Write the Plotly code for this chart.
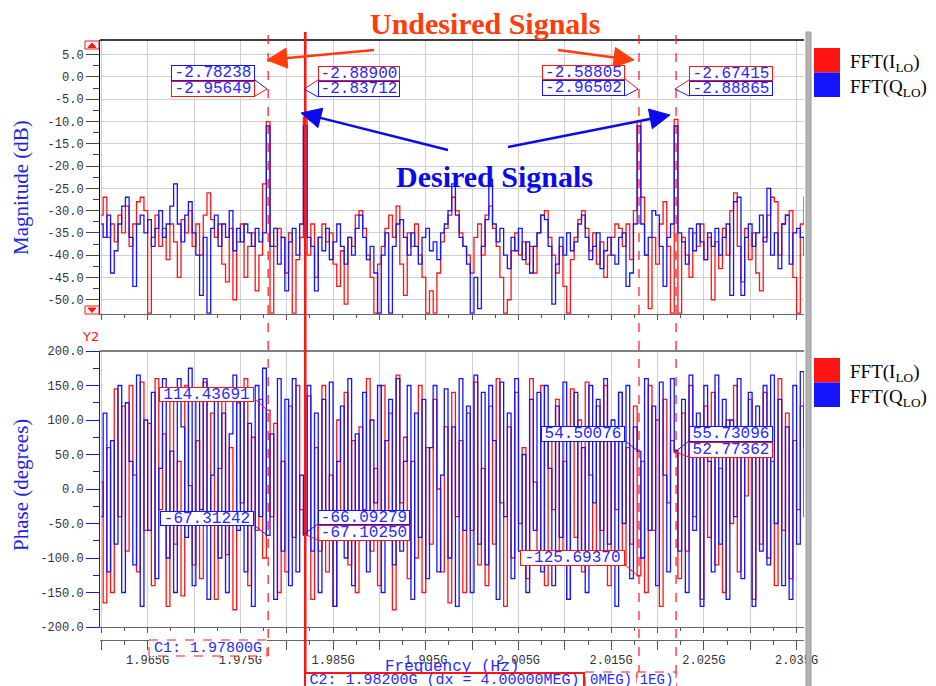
import plotly.graph_objects as go

# frequency grid in MHz (FFT bins, 0.4 MHz apart)
f_start = 1960.0
f_step = 0.4
n_bins = 191
freq = [f_start + f_step * i for i in range(n_bins)]

mag_i = [-31, -27, -36, -33, -37, -31, -35, -29, -38, -33,
         -28, -27, -30, -53, -36, -31, -38, -34, -41, -33,
         -37, -45, -32, -35, -30, -38, -33, -40, -31, -26,
         -32, -36, -33, -42, -46, -34, -50, -37, -33, -45,
         -38, -35, -48, -40, -24, -10, -53, -38, -34, -36,
         -44, -35, -53, -41, -36, -9, -40, -33, -45, -36,
         -33, -37, -35, -42, -47, -39, -51, -36, -38, -31,
         -30, -34, -40, -45, -53, -42, -38, -34, -31, -36,
         -29, -42, -49, -35, -38, -33, -40, -45, -53, -48,
         -53, -44, -37, -34, -31, -27, -30, -35, -38, -40,
         -44, -36, -33, -40, -31, -29, -34, -38, -45, -53,
         -50, -39, -35, -40, -37, -42, -38, -44, -35, -31,
         -30, -36, -40, -44, -38, -47, -53, -41, -36, -32,
         -30, -34, -39, -35, -42, -37, -45, -40, -36, -33,
         -34, -38, -33, -41, -30, -10, -27, -40, -52, -36,
         -42, -33, -28, -38, -53, -9.5, -53, -36, -40, -45,
         -35, -38, -33, -41, -36, -50, -37, -43, -34, -40,
         -30, -26, -38, -46, -34, -41, -35, -44, -48, -36,
         -31, -27, -28, -40, -33, -31, -30, -45, -53, -33,
         -27]

mag_q = [-33, -36, -31, -44, -39, -33, -29, -27, -36, -47,
         -33, -31, -35, -32, -38, -34, -30, -36, -33, -29,
         -24, -33, -37, -31, -28, -35, -40, -49, -36, -53,
         -34, -31, -38, -33, -36, -30, -39, -34, -37, -33,
         -35, -38, -34, -37, -35, -11, -38, -34, -42, -36,
         -48, -37, -34, -40, -33, -11, -36, -38, -48, -36,
         -39, -34, -41, -37, -33, -38, -42, -36, -40, -34,
         -31, -36, -41, -38, -44, -53, -40, -35, -53, -38,
         -33, -32, -36, -40, -35, -38, -42, -36, -34, -39,
         -37, -41, -35, -33, -30, -24, -31, -36, -38, -42,
         -53, -45, -52, -38, -32, -23, -33, -37, -34, -40,
         -43, -36, -39, -34, -41, -37, -44, -38, -35, -31,
         -32, -38, -51, -42, -36, -40, -35, -39, -37, -33,
         -31, -36, -41, -38, -35, -43, -39, -36, -40, -42,
         -36, -35, -47, -44, -33, -11, -33, -40, -36, -30,
         -31, -38, -47, -36, -33, -11, -35, -37, -42, -34,
         -39, -33, -37, -41, -35, -38, -34, -40, -36, -33,
         -49, -28, -27, -49, -36, -33, -38, -35, -31, -37,
         -25, -40, -35, -43, -33, -31, -42, -35, -34, -36,
         -40]

ph_i = [10, -165, 60, -150, 145, -40, 120, -90, 150, 20,
        -120, 155, -60, 95, -140, 160, -30, 80, -170, 140,
        -80, 40, -155, 150, 5, -110, 70, -130, 155, -50,
        110, -160, 30, 140, -95, 60, -175, 125, -20, 160,
        -140, 75, -60, 130, -100, 114.43691, -40, 95, -150, 40,
        -120, 120, -70, 150, -30, -67.1025, 135, -160, 60, -90,
        150, -120, 20, -170, 100, -45, 140, -110, 70, -150,
        90, -30, 160, -90, 30, -140, 150, -60, 110, -175,
        165, -20, 75, -130, 40, -100, 150, -150, 60, -80,
        130, 0, -120, 90, -165, 140, -40, 70, -150, 110,
        -60, 155, -110, 30, -140, 120, -80, 160, -20, -170,
        90, -100, 140, -50, 60, -130, 160, 10, -90, 150,
        -140, 80, -30, 130, -110, 40, -160, 145, -70, 100,
        -120, 155, 20, -100, 120, -60, 150, -140, 90, -30,
        140, -110, 60, -80, 120, -125.6937, 40, -150, 150, -60,
        100, -170, 130, -20, 70, 52.77362, -130, 110, -90, 150,
        -40, 80, -160, 120, -70, 140, -110, 30, -150, 100,
        -50, 150, -120, 60, -10, 130, -160, 90, -80, 140,
        -100, 40, -140, 160, -60, 110, -130, 70, -30, 120,
        60]

ph_q = [-40, 110, -120, 70, -80, 150, -150, 125, 40, -110,
        165, -170, 100, -60, 140, -130, 30, 160, -100, 55,
        -150, 160, 90, -70, 175, -140, 130, -30, 160, -160,
        20, 145, -100, 110, -150, 80, 165, -60, 140, -120,
        95, -170, 150, -40, 175, -67.31242, 80, -160, 160, -90,
        130, -140, 160, -120, 20, -66.09279, 150, -90, 110, -150,
        130, -50, 155, -170, 40, 120, -100, 160, -140, 80,
        -60, 140, -120, 100, -20, 150, -150, 70, 130, -110,
        160, -90, 40, 150, -160, 110, -70, 130, -130, 60,
        150, -120, 20, 145, -100, 90, -170, 160, -60, 120,
        -150, 165, -80, 140, -110, 150, 70, -160, 155, -40,
        110, -130, 160, -90, 50, -150, 130, -60, 140, -120,
        150, 30, -140, 120, -70, 155, -160, 90, 140, -100,
        60, -150, 150, -20, 130, -110, 160, -80, 100, -170,
        140, -50, 150, -130, 90, 54.50076, -100, 160, -60, 120,
        -140, 155, 20, -120, 160, 55.73096, -90, 130, -150, 165,
        -60, 110, -170, 150, 40, -120, 165, -80, 130, -160,
        100, -40, 160, -130, 70, 140, -170, 120, -90, 150,
        -110, 165, -50, 130, -140, 90, -160, 150, -80, 170,
        -40]

cursors = [1978.0, 1982.0, 2018.0, 2022.0]
mag_ticks = [-50, -45, -40, -35, -30, -25, -20, -15, -10, -5, 0, 5]
ph_ticks = [-200, -150, -100, -50, 0, 50, 100, 150, 200]
f_major = [1960 + 5 * k for k in range(16)]
f_minor = [1962.5 + 5 * k for k in range(15)]

W, H = 936, 686
def px(x): return x / W
def py(y): return 1 - y / H

RED = 'rgb(255,20,20)'
BLUE = 'rgb(20,20,255)'
TXTBLUE = 'rgb(40,40,255)'
XR = [1959.86, 2035.8]
DOMX = [px(100), px(804)]

fig = go.Figure()
fig.add_trace(go.Scatter(x=freq, y=mag_i, xaxis='x', yaxis='y', mode='lines',
                         line=dict(color=RED, width=1.3, shape='hvh'), showlegend=False))
fig.add_trace(go.Scatter(x=freq, y=mag_q, xaxis='x', yaxis='y', mode='lines',
                         line=dict(color=BLUE, width=1.3, shape='hvh'), showlegend=False))
fig.add_trace(go.Scatter(x=freq, y=ph_i, xaxis='x2', yaxis='y2', mode='lines',
                         line=dict(color=RED, width=1.3, shape='hvh'), showlegend=False))
fig.add_trace(go.Scatter(x=freq, y=ph_q, xaxis='x2', yaxis='y2', mode='lines',
                         line=dict(color=BLUE, width=1.3, shape='hvh'), showlegend=False))
fig.add_trace(go.Scatter(x=[freq[0]], y=[None], xaxis='x3', yaxis='y2', mode='lines',
                         showlegend=False, hoverinfo='skip'))

tickfont = dict(family='Liberation Mono', size=12, color='#333')
xcommon = dict(range=XR, domain=DOMX, tickvals=f_major, ticks='outside', ticklen=5,
               tickcolor='#555', showline=True, linecolor='#666', zeroline=False, automargin=False,
               minor=dict(tickvals=f_minor, ticks='outside', ticklen=3, tickcolor='#555', showgrid=False))

fig.update_layout(
    width=W, height=H, margin=dict(l=0, r=0, t=0, b=0, autoexpand=False),
    paper_bgcolor='white', plot_bgcolor='white',
    xaxis=dict(anchor='y', showticklabels=False, showgrid=True, gridcolor='#cfcfcf', **xcommon),
    xaxis2=dict(anchor='y2', showticklabels=False, showgrid=True, gridcolor='#cfcfcf', **xcommon),
    xaxis3=dict(overlaying='x2', anchor='free', position=py(640), side='bottom',
                range=XR, domain=DOMX, tickvals=f_major, automargin=False,
                ticktext=[('%.3fG' % (v / 1000)) if (v - 1965) % 10 == 0 else '' for v in f_major],
                ticks='outside', ticklen=9, tickcolor='#555', showline=True, linecolor='#666',
                showgrid=False, zeroline=False, tickfont=tickfont,
                minor=dict(tickvals=f_minor, ticks='outside', ticklen=4, tickcolor='#555', showgrid=False)),
    yaxis=dict(domain=[py(314), py(40)], range=[-53.2, 8.3], anchor='x', automargin=False,
               tickvals=mag_ticks, ticktext=['%.1f' % v for v in mag_ticks],
               ticks='outside', ticklen=13, tickcolor='#444', tickfont=tickfont,
               showline=True, linecolor='black', showgrid=True, gridcolor='#cfcfcf', zeroline=False,
               minor=dict(dtick=2.5, tick0=2.5, ticks='outside', ticklen=6, tickcolor='#444', showgrid=False)),
    yaxis2=dict(domain=[py(627), py(351)], range=[-200, 200], anchor='x2', automargin=False,
                tickvals=ph_ticks, ticktext=['%.1f' % v for v in ph_ticks],
                ticks='outside', ticklen=13, tickcolor=BLUE, tickfont=tickfont,
                showline=True, linecolor=BLUE, showgrid=False, zeroline=False,
                minor=dict(dtick=25, tick0=25, ticks='outside', ticklen=6, tickcolor=BLUE, showgrid=False)),
)

shapes = []
ann = []

def pline(x0, y0, x1, y1, color, width=1, dash='solid'):
    shapes.append(dict(type='line', xref='paper', yref='paper', x0=px(x0), y0=py(y0),
                       x1=px(x1), y1=py(y1), line=dict(color=color, width=width, dash=dash), layer='above'))

def prect(x0, y0, x1, y1, line_color, fill='rgba(0,0,0,0)', width=1, dash='solid'):
    shapes.append(dict(type='rect', xref='paper', yref='paper', x0=px(x0), y0=py(y0),
                       x1=px(x1), y1=py(y1), fillcolor=fill,
                       line=dict(color=line_color, width=width, dash=dash), layer='above'))

def ppath(pts, color):
    d = 'M ' + ' L '.join('%f,%f' % (px(a), py(b)) for a, b in pts) + ' Z'
    shapes.append(dict(type='path', xref='paper', yref='paper', path=d, fillcolor=color,
                       line=dict(color=color, width=1), layer='above'))

def arrow(x0, y0, x1, y1, color, width=2.5, hl=20, hw=10):
    dx, dy = x1 - x0, y1 - y0
    L = (dx * dx + dy * dy) ** 0.5
    ux, uy = dx / L, dy / L
    bx, by = x1 - ux * hl, y1 - uy * hl
    pline(x0, y0, bx + ux * 2, by + uy * 2, color, width)
    ppath([(x1, y1), (bx - uy * hw, by + ux * hw), (bx + uy * hw, by - ux * hw)], color)

def text(cx, cy, t, size, color, family='Liberation Serif', bold=False, angle=0, xanchor='center'):
    if bold:
        t = '<b>' + t + '</b>'
    ann.append(dict(x=px(cx), y=py(cy), xref='paper', yref='paper', text=t, showarrow=False,
                    font=dict(family=family, size=size, color=color), textangle=angle,
                    xanchor=xanchor, yanchor='middle'))

def box(x0, y0, x1, y1, t, border, size=16, bw=1, bg='white'):
    ann.append(dict(x=px((x0 + x1) / 2), y=py((y0 + y1) / 2), xref='paper', yref='paper', text=t,
                    showarrow=False, font=dict(family='Liberation Mono', size=size, color=TXTBLUE),
                    bgcolor=bg, bordercolor=border, borderwidth=bw, borderpad=0,
                    width=x1 - x0 - 2 * bw, height=y1 - y0 - 2 * bw,
                    xanchor='center', yanchor='middle'))

# plot frames
pline(100, 40, 804, 40, 'black', 1.5)
pline(100, 351, 804, 351, '#555', 1.5)
prect(806, 32, 811, 690, '#999', fill='#b4b4b4')

# cursors
for c, style, y1 in zip(cursors, ['dash', 'solid', 'dash', 'dash'], [656, 690, 690, 690]):
    shapes.append(dict(type='line', xref='x', yref='paper', x0=c, x1=c, y0=py(35 if style == 'dash' else 32),
                       y1=py(y1), line=dict(color=RED, width=1.2 if style == 'dash' else 2.5, dash=style),
                       layer='above'))

# scroll buttons
prect(85, 41, 99, 49, RED, fill='white')
ppath([(88, 47.5), (92, 43), (96, 47.5)], RED)
prect(85, 306, 99, 314, RED, fill='white')
ppath([(88, 308), (96, 308), (92, 312.5)], RED)

# marker leaders
for a in [(255, 80, 267, 89, BLUE), (255, 96, 267, 89, RED), (318, 80, 304, 89, RED), (318, 97, 304, 89, BLUE),
          (625, 79, 638, 89, RED), (625, 96, 638, 89, BLUE), (689, 80, 675, 89, RED), (689, 96, 675, 89, BLUE),
          (255, 399, 267, 410, RED), (255, 526, 267, 535, BLUE), (318, 524, 304, 534, BLUE),
          (318, 540, 304, 534, RED), (625, 565, 638, 576, RED), (625, 441, 638, 451, BLUE),
          (689, 441, 675, 452, BLUE), (689, 457, 675, 452, RED)]:
    pline(a[0], a[1], a[2], a[3], a[4], 1)

# marker boxes
box(171, 65, 255, 81, '-2.78238', BLUE)
box(171, 81, 255, 97, '-2.95649', RED)
box(318, 66, 400, 81, '-2.88900', RED)
box(318, 81, 400, 97, '-2.83712', BLUE)
box(542, 65, 625, 80, '-2.58805', RED)
box(542, 80, 625, 96, '-2.96502', BLUE)
box(689, 66, 773, 81, '-2.67415', RED)
box(689, 81, 773, 96, '-2.88865', BLUE)
box(159, 387, 254, 402, '114.43691', RED)
box(160, 511, 254, 526, '-67.31242', BLUE)
box(318, 510, 410, 525, '-66.09279', BLUE)
box(318, 525, 410, 541, '-67.10250', RED)
box(520, 550, 625, 566, '-125.69370', RED)
box(541, 426, 625, 442, '54.50076', BLUE)
box(689, 426, 773, 442, '55.73096', BLUE)
box(689, 442, 773, 458, '52.77362', RED)

# axis titles
text(21, 188, 'Magnitude (dB)', 21, 'rgb(30,30,230)', angle=-90)
text(21, 485, 'Phase (degrees)', 21, 'rgb(30,30,230)', angle=-90)
text(90, 337, 'Y2', 13, RED, family='DejaVu Sans')
text(452, 667, 'Frequency (Hz)', 16, TXTBLUE, family='Liberation Mono')

# cursor labels
prect(149, 640, 267, 656, RED, fill='white', dash='dash')
box(150, 641, 266, 655, 'C1: 1.97800G', 'rgba(0,0,0,0)', size=15, bw=0)
prect(585, 672, 637, 690, RED, fill='white', dash='dash')
prect(637, 672, 676, 690, RED, fill='white', dash='dash')
box(586, 673, 636, 686, '0MEG)', 'rgba(0,0,0,0)', size=14, bw=0)
box(638, 673, 675, 686, '1EG)', 'rgba(0,0,0,0)', size=14, bw=0)
box(304, 672, 585, 688, 'C2: 1.98200G (dx = 4.00000MEG)', RED, size=15, bw=2)

# legends
for top in [48, 358]:
    prect(814, top, 840, top + 24.5, RED, fill=RED, width=0)
    prect(814, top + 24.5, 840, top + 49, BLUE, fill=BLUE, width=0)
    text(848, top + 15, 'FFT(I<sub>LO</sub>)', 19, 'black', xanchor='left')
    text(848, top + 40, 'FFT(Q<sub>LO</sub>)', 19, 'black', xanchor='left')

# call-outs
text(485, 24, 'Undesired Signals', 30, 'rgb(255,60,10)', bold=True)
text(494, 176, 'Desired Signals', 30, 'rgb(10,10,235)', bold=True)
arrow(374, 50, 267, 60, 'rgb(255,60,10)')
arrow(558, 50, 634, 60, 'rgb(255,60,10)')
arrow(448, 150, 301, 113, 'rgb(10,10,235)')
arrow(508, 147, 670, 115, 'rgb(10,10,235)')

fig.update_layout(shapes=shapes, annotations=ann)
config = {'displayModeBar': False}
fig.write_html("out.html", config=config,
               post_script="document.body.style.margin='0';document.body.style.overflow='hidden';")
